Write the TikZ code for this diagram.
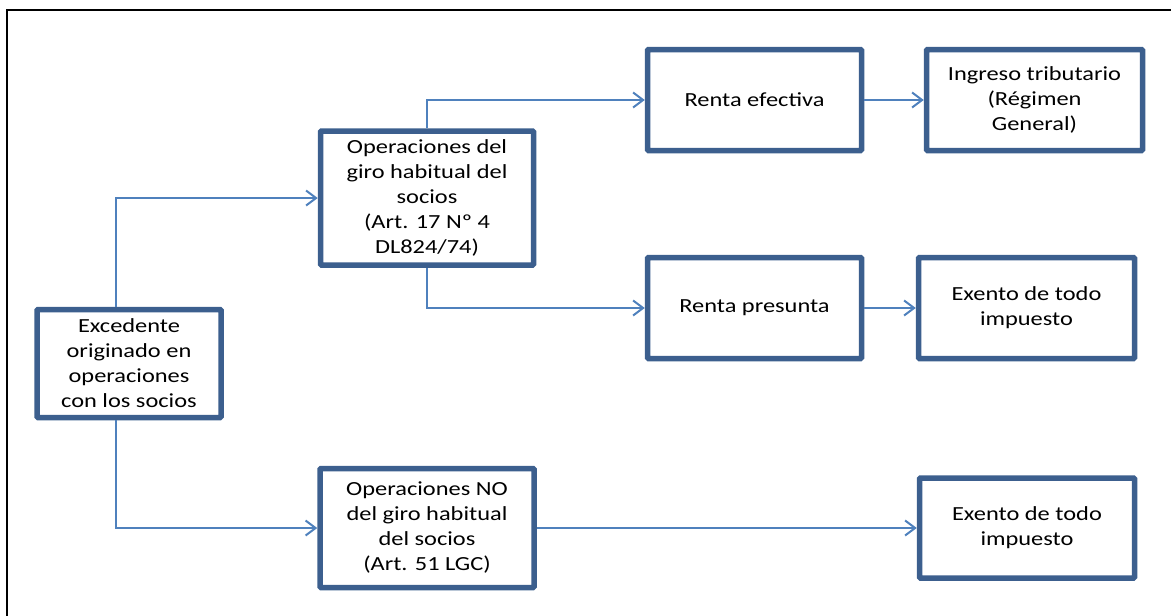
\documentclass[tikz,border=0pt]{standalone}
\usepackage{fontspec}
\setmainfont{Carlito}[FakeStretch=1.22]
\usetikzlibrary{arrows.meta}
\definecolor{boxblue}{RGB}{60,95,142}
\definecolor{lineblue}{RGB}{79,129,189}
\tikzset{
  flowbox/.style={draw=boxblue, line width=5.5pt, fill=white, rounded corners=1pt,
    align=center, inner sep=2pt, font=\fontsize{20}{25}\selectfont},
  link/.style={draw=lineblue, line width=2.2pt,
    -{Straight Barb[length=10pt,width=15pt,line width=2pt]}},
}
\begin{document}
\begin{tikzpicture}[x=1pt,y=-1pt]
\useasboundingbox (0,0) rectangle (1171,616);
% frame
\draw[black, line width=2.5pt] (7,616) -- (7,10) -- (1171,10);
% boxes (centre, size = outer minus border)
\node[flowbox, minimum width=184pt, minimum height=108pt] (exc) at (129,363.5)
  {Excedente\\originado en\\operaciones\\con los socios};
\node[flowbox, minimum width=213pt, minimum height=134pt] (op1) at (427,198)
  {Operaciones del\\giro habitual del\\socios\\(Art. 17 Nº 4\\DL824/74)};
\node[flowbox, minimum width=214pt, minimum height=119pt] (op2) at (427,528)
  {Operaciones NO\\del giro habitual\\del socios\\(Art. 51 LGC)};
\node[flowbox, minimum width=214pt, minimum height=101pt] (ref) at (754.5,100)
  {Renta efectiva};
\node[flowbox, minimum width=216pt, minimum height=101pt] (ing) at (1034.5,100)
  {Ingreso tributario\\(Régimen\\General)};
\node[flowbox, minimum width=214pt, minimum height=101pt] (pre) at (754.5,308)
  {Renta presunta};
\node[flowbox, minimum width=216pt, minimum height=101pt] (ex1) at (1026.5,308)
  {Exento de todo\\impuesto};
\node[flowbox, minimum width=215pt, minimum height=100pt] (ex2) at (1027,528)
  {Exento de todo\\impuesto};
% connectors
\coordinate (e1) at (116,307);
\coordinate (e2) at (116,420);
\draw[link] (e1) |- (op1.west);
\draw[link] (e2) |- (op2.west);
\draw[link] (op1.north) |- (ref.west);
\draw[link] (op1.south) |- (pre.west);
\draw[link] (ref.east) -- (ing.west);
\draw[link] (pre.east) -- (ex1.west);
\draw[link] (op2.east) -- (ex2.west);
\end{tikzpicture}
\end{document}
